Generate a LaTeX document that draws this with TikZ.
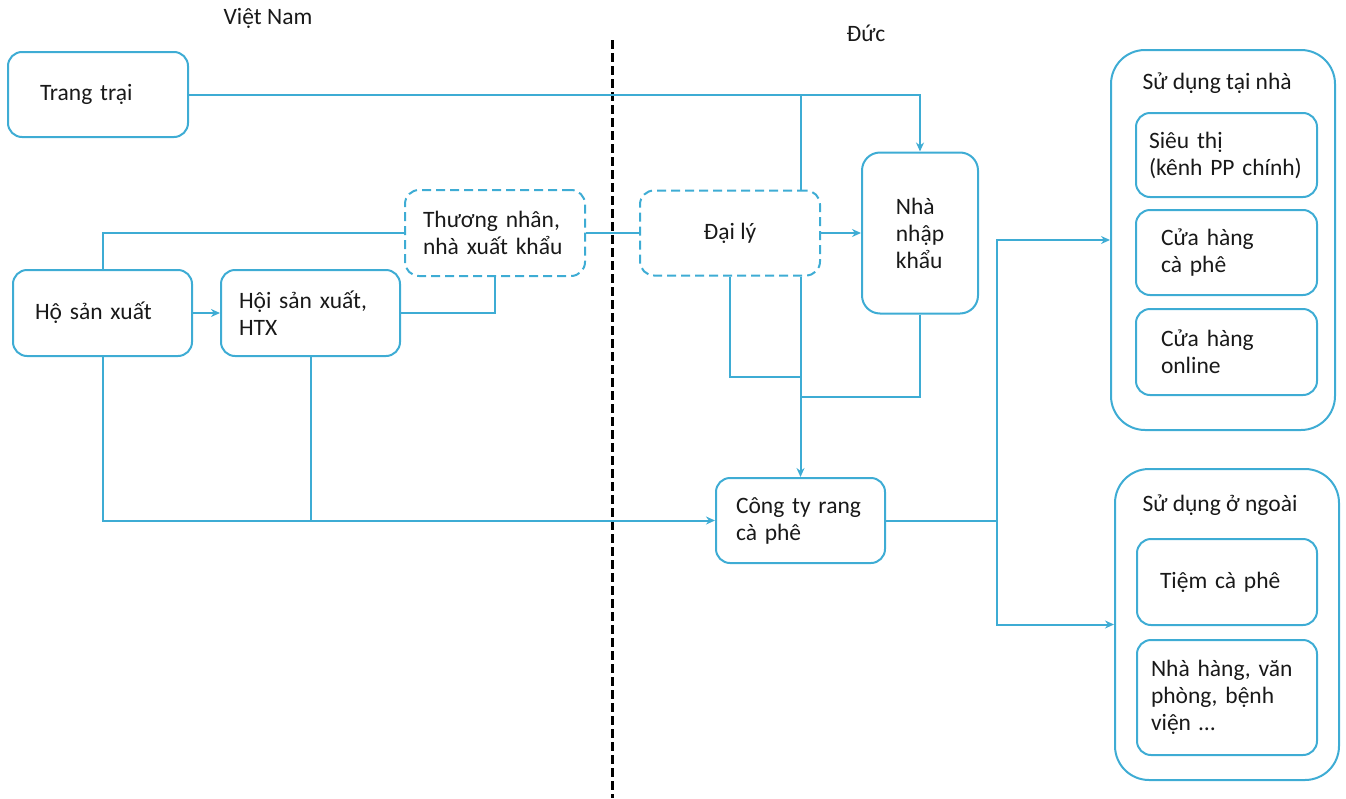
\documentclass[tikz,border=0pt]{standalone}
\usepackage{fontspec}
\setmainfont{Carlito}
\usetikzlibrary{arrows.meta}
\definecolor{flow}{RGB}{62,172,212}
\definecolor{ink}{RGB}{25,25,25}

\begin{document}
\begin{tikzpicture}[x=1pt,y=-1pt,
    box/.style={draw=flow,line width=2pt,rounded corners=14pt,align=left,text=ink,font=\fontsize{23.5}{27}\selectfont},
    tbox/.style={box,dash pattern=on 9pt off 5pt},
    outer/.style={draw=flow,line width=2pt,rounded corners=34pt,minimum width=224pt},
    link/.style={flow,line width=2pt},
    arr/.style={link,-{Stealth[length=9pt,width=8pt]}},
    lbl/.style={text=ink,font=\fontsize{23.5}{27}\selectfont}]
    \useasboundingbox (0,0) rectangle (1346,798);

    \node[lbl] (vn) at (268,18) {Việt Nam};
    \node[lbl] (de) at (866,33) {Đức};
    \draw[line width=3pt,dash pattern=on 9pt off 4pt] (612,40) -- (612,798);

    \node[box,minimum height=85pt,text width=116pt,inner xsep=32pt] (farm) at (98,94.5) {Trang trại};
    \node[box,minimum height=86pt,text width=135pt,inner xsep=22pt] (household) at (102.5,313) {Hộ sản xuất};
    \node[box,minimum height=86pt,text width=143pt,inner xsep=18pt] (assoc) at (310.5,313) {Hội sản xuất,\\HTX};
    \node[tbox,minimum height=86pt,text width=144pt,inner xsep=18pt] (trader) at (495,233) {Thương nhân,\\nhà xuất khẩu};
    \node[tbox,align=center,minimum height=85pt,minimum width=180pt] (agent) at (730,233) {Đại lý};
    \node[box,rounded corners=18pt,minimum height=161pt,minimum width=116pt] (importer) at (920,233) {Nhà\\nhập\\khẩu};
    \node[box,minimum height=85pt,text width=129pt,inner xsep=20pt] (roaster) at (800.5,520.5) {Công ty rang\\cà phê};

    \node[outer,minimum height=380pt] (home) at (1223,240) {};
    \node[lbl,anchor=west] (homet) at (1139,83) {Sử dụng tại nhà};
    \node[box,minimum height=84pt,text width=155pt,inner xsep=13pt] (market) at (1226.5,155) {Siêu thị\\(kênh PP chính)};
    \node[box,minimum height=85pt,text width=131pt,inner xsep=25pt] (shop) at (1226.5,252.5) {Cửa hàng\\cà phê};
    \node[box,minimum height=86pt,text width=131pt,inner xsep=25pt] (online) at (1226.5,352) {Cửa hàng\\online};

    \node[outer,minimum height=311pt] (outside) at (1227,624.5) {};
    \node[lbl,anchor=west] (outsidet) at (1139,505) {Sử dụng ở ngoài};
    \node[box,minimum height=86pt,text width=134pt,inner xsep=23pt] (cafe) at (1227,582) {Tiệm cà phê};
    \node[box,minimum height=115pt,text width=152pt,inner xsep=14pt] (horeca) at (1227,697.5) {Nhà hàng, văn\\phòng, bệnh\\viện \dots};

    \coordinate (j1) at (800,377);
    \coordinate (j2) at (800,397);
    \coordinate (split) at (997,520.5);

    \draw[arr] (farm.east) -| (importer.north);
    \draw[link] (roaster.north |- agent.north) -- (roaster.north |- farm.east);
    \draw[link] (household.north) |- (trader.west);
    \draw[arr] (household) -- (assoc);
    \draw[link] (assoc.east) -| (trader.south);
    \draw[link] (trader.east) -- (agent.west);
    \draw[arr] (agent) -- (importer);
    \draw[link] (agent.south) |- (j1);
    \draw[arr] (roaster.north |- agent.south) -- (roaster.north);
    \draw[link] (importer.south) |- (j2);
    \draw[arr] (household.south) |- (roaster.west);
    \draw[link] (assoc.south) -- (assoc.south |- roaster.west);
    \draw[link] (roaster.east) -- (split);
    \draw[arr] (split) |- (home.west);
    \draw[arr] (split) |- (outside.west);
\end{tikzpicture}
\end{document}
